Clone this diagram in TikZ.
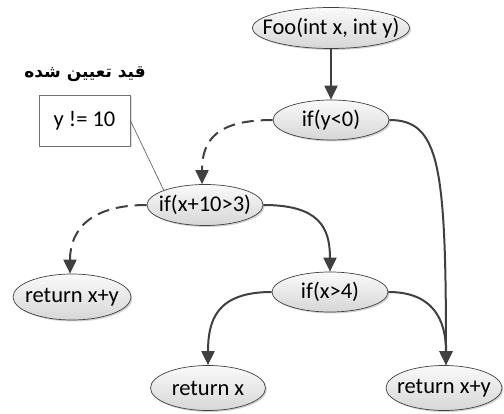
\documentclass[tikz,border=0pt]{standalone}
\usepackage{fontspec}
\setmainfont{Carlito}
\newfontfamily\arabicfont[Script=Arabic]{DejaVu Sans Bold}
\TeXXeTstate=1
\usetikzlibrary{arrows.meta,shadows,shapes.geometric}
\definecolor{edgec}{HTML}{404040}
\newcommand\zb[1]{\makebox[0pt]{#1}}
\begin{document}
\begin{tikzpicture}[x=1pt,y=-1pt,
  stnode/.style={ellipse,draw=edgec,line width=0.7pt,top color=black!2,bottom color=black!16,
     drop shadow={shadow xshift=1.5pt,shadow yshift=-1.5pt,fill=black!35},
     inner sep=0pt,font=\fontsize{22.5}{26}\selectfont},
  arr/.style={draw=edgec,line width=2pt,-{Triangle[length=14pt,width=13pt]},fill=none},
  dsh/.style={arr,dash pattern=on 12pt off 7pt},
  calloutbox/.style={draw=black!55,line width=0.7pt,fill=white,minimum width=91pt,minimum height=51pt,
     drop shadow={shadow xshift=1.5pt,shadow yshift=-1.5pt,fill=black!25},font=\fontsize{22.5}{26}\selectfont},
  callline/.style={draw=black!60,line width=0.7pt}]
\useasboundingbox (0,0) rectangle (504,414);
\node[stnode,minimum width=157pt,minimum height=41pt] (foo) at (331,28) {\zb{Foo(int x, int y)}};
\node[stnode,minimum width=116pt,minimum height=40pt] (ify) at (331,120) {\zb{if(y<0)}};
\node[stnode,minimum width=116pt,minimum height=41pt] (ifx10) at (205,205) {\zb{if(x+10>3)}};
\node[stnode,minimum width=116pt,minimum height=40pt] (ifx4) at (330,292) {\zb{if(x>4)}};
\node[stnode,minimum width=118pt,minimum height=46pt] (rl) at (72,297) {\zb{return x+y}};
\node[stnode,minimum width=115pt,minimum height=45pt] (rx) at (208,388) {\zb{return x}};
\node[stnode,minimum width=116pt,minimum height=45pt] (rr) at (444,388) {\zb{return x+y}};
\node[calloutbox] (box) at (84.5,120.5) {y != 10};
\node[font=\arabicfont\fontsize{17}{20}\selectfont] (title) at (85,74) {\beginR قید تعیین شده\endR};
\draw[callline] (box.east) -- (ifx10.north west);
\draw[arr] (foo) -- (ify);
\draw[dsh] (ify.west) .. controls +(-55,0) and +(0,-45) .. ([xshift=-3pt]ifx10.north);
\draw[arr] (ify.east) .. controls +(50,0) and +(0,-200) .. ([xshift=2pt]rr.north);
\draw[dsh] (ifx10.west) .. controls +(-55,0) and +(0,-45) .. ([xshift=-2pt]rl.north);
\draw[arr] (ifx10.east) .. controls +(55,0) and +(0,-45) .. (ifx4.north);
\draw[arr] (ifx4.west) .. controls +(-55,0) and +(0,-45) .. (rx.north);
\draw[arr] (ifx4.east) .. controls +(45,0) and +(0,-45) .. ([xshift=2pt]rr.north);
\end{tikzpicture}
\end{document}
